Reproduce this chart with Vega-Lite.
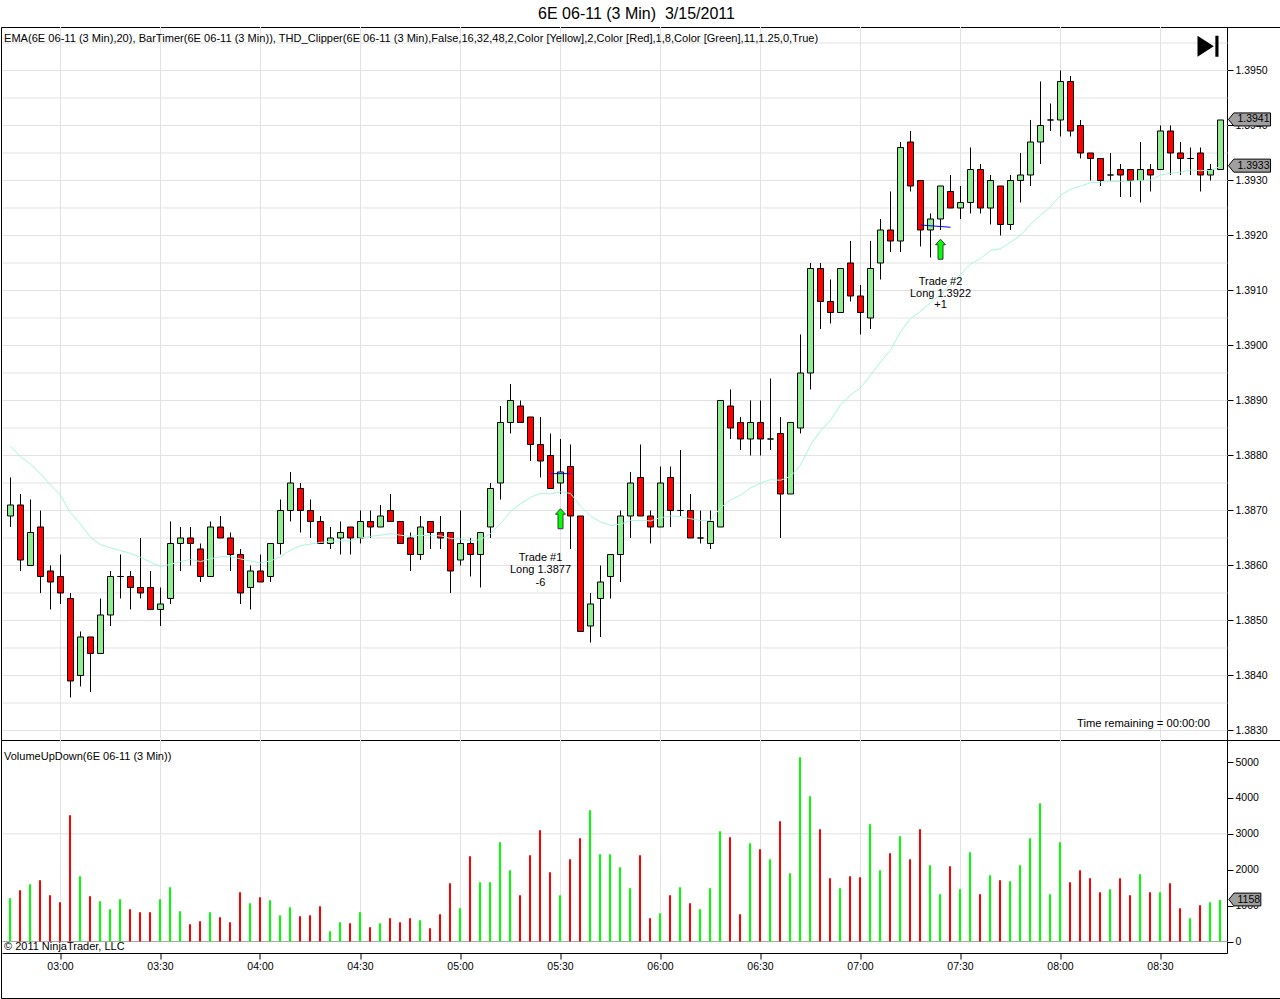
{
  "$schema": "https://vega.github.io/schema/vega-lite/v6.json",
  "padding": 0,
  "spacing": 0,
  "bounds": "flush",
  "background": "#ffffff",
  "config": {
    "axis": {"labelFont": "Liberation Sans", "labelFontSize": 10.5, "labelColor": "#000000", "grid": false, "tickColor": "#000000", "domainColor": "#000000"},
    "text": {"font": "Liberation Sans", "fontSize": 11, "color": "#000000"}
  },
  "datasets": {
    "timegrid": [
      {"t":"2011-03-15T03:00:00Z","v0":0,"v1":5613},{"t":"2011-03-15T03:30:00Z","v0":0,"v1":5613},{"t":"2011-03-15T04:00:00Z","v0":0,"v1":5613},{"t":"2011-03-15T04:30:00Z","v0":0,"v1":5613},{"t":"2011-03-15T05:00:00Z","v0":0,"v1":5613},{"t":"2011-03-15T05:30:00Z","v0":0,"v1":5613},{"t":"2011-03-15T06:00:00Z","v0":0,"v1":5613},{"t":"2011-03-15T06:30:00Z","v0":0,"v1":5613},{"t":"2011-03-15T07:00:00Z","v0":0,"v1":5613},{"t":"2011-03-15T07:30:00Z","v0":0,"v1":5613},{"t":"2011-03-15T08:00:00Z","v0":0,"v1":5613},{"t":"2011-03-15T08:30:00Z","v0":0,"v1":5613}
    ],
    "bars": [
      {"t":"2011-03-15T02:45:00Z","o":1.3869,"h":1.3876,"l":1.3867,"c":1.3871,"v":1207,"ema":1.38817,"dir":"up"},
      {"t":"2011-03-15T02:48:00Z","o":1.3871,"h":1.3873,"l":1.3859,"c":1.3861,"v":1430,"ema":1.38798,"dir":"down"},
      {"t":"2011-03-15T02:51:00Z","o":1.386,"h":1.3872,"l":1.386,"c":1.3866,"v":1597,"ema":1.38784,"dir":"up"},
      {"t":"2011-03-15T02:54:00Z","o":1.3867,"h":1.387,"l":1.3855,"c":1.3858,"v":1708,"ema":1.38767,"dir":"down"},
      {"t":"2011-03-15T02:57:00Z","o":1.3859,"h":1.386,"l":1.3852,"c":1.3857,"v":1290,"ema":1.38746,"dir":"down"},
      {"t":"2011-03-15T03:00:00Z","o":1.3858,"h":1.3862,"l":1.3853,"c":1.3855,"v":1096,"ema":1.38728,"dir":"down"},
      {"t":"2011-03-15T03:03:00Z","o":1.3854,"h":1.3855,"l":1.3836,"c":1.3839,"v":3519,"ema":1.38696,"dir":"down"},
      {"t":"2011-03-15T03:06:00Z","o":1.384,"h":1.3848,"l":1.3838,"c":1.3847,"v":1820,"ema":1.38675,"dir":"up"},
      {"t":"2011-03-15T03:09:00Z","o":1.3847,"h":1.3847,"l":1.3837,"c":1.3844,"v":1263,"ema":1.38651,"dir":"down"},
      {"t":"2011-03-15T03:12:00Z","o":1.3844,"h":1.3854,"l":1.3844,"c":1.3851,"v":1123,"ema":1.38638,"dir":"up"},
      {"t":"2011-03-15T03:15:00Z","o":1.3851,"h":1.3859,"l":1.3849,"c":1.3858,"v":900,"ema":1.38632,"dir":"up"},
      {"t":"2011-03-15T03:18:00Z","o":1.3858,"h":1.3862,"l":1.3854,"c":1.3858,"v":1179,"ema":1.38627,"dir":"up"},
      {"t":"2011-03-15T03:21:00Z","o":1.3858,"h":1.3859,"l":1.3852,"c":1.3856,"v":900,"ema":1.38622,"dir":"down"},
      {"t":"2011-03-15T03:24:00Z","o":1.3856,"h":1.3865,"l":1.3854,"c":1.3855,"v":817,"ema":1.38615,"dir":"down"},
      {"t":"2011-03-15T03:27:00Z","o":1.3856,"h":1.3859,"l":1.3852,"c":1.3852,"v":817,"ema":1.38606,"dir":"down"},
      {"t":"2011-03-15T03:30:00Z","o":1.3852,"h":1.3856,"l":1.3849,"c":1.3853,"v":1179,"ema":1.38598,"dir":"up"},
      {"t":"2011-03-15T03:33:00Z","o":1.3854,"h":1.3868,"l":1.3853,"c":1.3864,"v":1513,"ema":1.38602,"dir":"up"},
      {"t":"2011-03-15T03:36:00Z","o":1.3864,"h":1.3867,"l":1.3859,"c":1.3865,"v":845,"ema":1.38607,"dir":"up"},
      {"t":"2011-03-15T03:39:00Z","o":1.3865,"h":1.3867,"l":1.386,"c":1.3864,"v":483,"ema":1.38611,"dir":"down"},
      {"t":"2011-03-15T03:42:00Z","o":1.3863,"h":1.3864,"l":1.3857,"c":1.3858,"v":566,"ema":1.38607,"dir":"down"},
      {"t":"2011-03-15T03:45:00Z","o":1.3858,"h":1.3868,"l":1.3858,"c":1.3867,"v":817,"ema":1.38612,"dir":"up"},
      {"t":"2011-03-15T03:48:00Z","o":1.3867,"h":1.3869,"l":1.3865,"c":1.3865,"v":678,"ema":1.38616,"dir":"down"},
      {"t":"2011-03-15T03:51:00Z","o":1.3865,"h":1.3866,"l":1.3859,"c":1.3862,"v":539,"ema":1.38616,"dir":"down"},
      {"t":"2011-03-15T03:54:00Z","o":1.3862,"h":1.3863,"l":1.3853,"c":1.3855,"v":1374,"ema":1.38612,"dir":"down"},
      {"t":"2011-03-15T03:57:00Z","o":1.3856,"h":1.386,"l":1.3852,"c":1.3859,"v":1068,"ema":1.38608,"dir":"up"},
      {"t":"2011-03-15T04:00:00Z","o":1.3859,"h":1.3862,"l":1.3857,"c":1.3857,"v":1235,"ema":1.38605,"dir":"down"},
      {"t":"2011-03-15T04:03:00Z","o":1.3858,"h":1.3864,"l":1.3857,"c":1.3864,"v":1151,"ema":1.38608,"dir":"up"},
      {"t":"2011-03-15T04:06:00Z","o":1.3864,"h":1.3872,"l":1.3862,"c":1.387,"v":733,"ema":1.38616,"dir":"up"},
      {"t":"2011-03-15T04:09:00Z","o":1.387,"h":1.3877,"l":1.3868,"c":1.3875,"v":956,"ema":1.38628,"dir":"up"},
      {"t":"2011-03-15T04:12:00Z","o":1.3874,"h":1.3875,"l":1.3866,"c":1.387,"v":706,"ema":1.38636,"dir":"down"},
      {"t":"2011-03-15T04:15:00Z","o":1.387,"h":1.3872,"l":1.3865,"c":1.3868,"v":733,"ema":1.38639,"dir":"down"},
      {"t":"2011-03-15T04:18:00Z","o":1.3868,"h":1.3869,"l":1.3864,"c":1.3864,"v":984,"ema":1.38642,"dir":"down"},
      {"t":"2011-03-15T04:21:00Z","o":1.3864,"h":1.3867,"l":1.3863,"c":1.3865,"v":288,"ema":1.38644,"dir":"up"},
      {"t":"2011-03-15T04:24:00Z","o":1.3865,"h":1.3868,"l":1.3862,"c":1.3866,"v":539,"ema":1.38645,"dir":"up"},
      {"t":"2011-03-15T04:27:00Z","o":1.3867,"h":1.3867,"l":1.3862,"c":1.3865,"v":511,"ema":1.38645,"dir":"down"},
      {"t":"2011-03-15T04:30:00Z","o":1.3865,"h":1.387,"l":1.3864,"c":1.3868,"v":817,"ema":1.3865,"dir":"up"},
      {"t":"2011-03-15T04:33:00Z","o":1.3868,"h":1.387,"l":1.3865,"c":1.3867,"v":399,"ema":1.38653,"dir":"down"},
      {"t":"2011-03-15T04:36:00Z","o":1.3867,"h":1.3871,"l":1.3867,"c":1.3869,"v":511,"ema":1.38655,"dir":"up"},
      {"t":"2011-03-15T04:39:00Z","o":1.387,"h":1.3873,"l":1.3868,"c":1.3868,"v":650,"ema":1.38658,"dir":"down"},
      {"t":"2011-03-15T04:42:00Z","o":1.3868,"h":1.3868,"l":1.3864,"c":1.3864,"v":539,"ema":1.38655,"dir":"down"},
      {"t":"2011-03-15T04:45:00Z","o":1.3865,"h":1.3866,"l":1.3859,"c":1.3862,"v":650,"ema":1.38653,"dir":"down"},
      {"t":"2011-03-15T04:48:00Z","o":1.3862,"h":1.3869,"l":1.3861,"c":1.3867,"v":594,"ema":1.38655,"dir":"up"},
      {"t":"2011-03-15T04:51:00Z","o":1.3868,"h":1.3868,"l":1.3863,"c":1.3866,"v":371,"ema":1.38654,"dir":"down"},
      {"t":"2011-03-15T04:54:00Z","o":1.3866,"h":1.3869,"l":1.3863,"c":1.3865,"v":761,"ema":1.38654,"dir":"down"},
      {"t":"2011-03-15T04:57:00Z","o":1.3866,"h":1.3866,"l":1.3855,"c":1.3859,"v":1625,"ema":1.38649,"dir":"down"},
      {"t":"2011-03-15T05:00:00Z","o":1.3861,"h":1.387,"l":1.386,"c":1.3864,"v":929,"ema":1.38648,"dir":"up"},
      {"t":"2011-03-15T05:03:00Z","o":1.3864,"h":1.3865,"l":1.3858,"c":1.3862,"v":2377,"ema":1.38645,"dir":"down"},
      {"t":"2011-03-15T05:06:00Z","o":1.3862,"h":1.3866,"l":1.3856,"c":1.3866,"v":1653,"ema":1.38647,"dir":"up"},
      {"t":"2011-03-15T05:09:00Z","o":1.3867,"h":1.3875,"l":1.3865,"c":1.3874,"v":1653,"ema":1.38658,"dir":"up"},
      {"t":"2011-03-15T05:12:00Z","o":1.3875,"h":1.3889,"l":1.3872,"c":1.3886,"v":2767,"ema":1.38676,"dir":"up"},
      {"t":"2011-03-15T05:15:00Z","o":1.3886,"h":1.3893,"l":1.3884,"c":1.389,"v":1987,"ema":1.38698,"dir":"up"},
      {"t":"2011-03-15T05:18:00Z","o":1.3889,"h":1.389,"l":1.3886,"c":1.3886,"v":1291,"ema":1.38712,"dir":"down"},
      {"t":"2011-03-15T05:21:00Z","o":1.3887,"h":1.3887,"l":1.3879,"c":1.3882,"v":2405,"ema":1.38724,"dir":"down"},
      {"t":"2011-03-15T05:24:00Z","o":1.3882,"h":1.3887,"l":1.3876,"c":1.3879,"v":3101,"ema":1.38731,"dir":"down"},
      {"t":"2011-03-15T05:27:00Z","o":1.388,"h":1.3884,"l":1.3874,"c":1.3874,"v":1931,"ema":1.3873,"dir":"down"},
      {"t":"2011-03-15T05:30:00Z","o":1.3875,"h":1.3883,"l":1.3873,"c":1.3877,"v":1291,"ema":1.38734,"dir":"up"},
      {"t":"2011-03-15T05:33:00Z","o":1.3878,"h":1.3882,"l":1.3863,"c":1.3869,"v":2293,"ema":1.38731,"dir":"down"},
      {"t":"2011-03-15T05:36:00Z","o":1.3869,"h":1.3869,"l":1.3848,"c":1.3848,"v":2878,"ema":1.38708,"dir":"down"},
      {"t":"2011-03-15T05:39:00Z","o":1.3849,"h":1.3855,"l":1.3846,"c":1.3853,"v":3658,"ema":1.3869,"dir":"up"},
      {"t":"2011-03-15T05:42:00Z","o":1.3854,"h":1.386,"l":1.3847,"c":1.3857,"v":2433,"ema":1.38679,"dir":"up"},
      {"t":"2011-03-15T05:45:00Z","o":1.3858,"h":1.3862,"l":1.3854,"c":1.3862,"v":2433,"ema":1.38673,"dir":"up"},
      {"t":"2011-03-15T05:48:00Z","o":1.3862,"h":1.387,"l":1.3857,"c":1.3869,"v":2071,"ema":1.38675,"dir":"up"},
      {"t":"2011-03-15T05:51:00Z","o":1.3869,"h":1.3877,"l":1.3865,"c":1.3875,"v":1486,"ema":1.38682,"dir":"up"},
      {"t":"2011-03-15T05:54:00Z","o":1.3876,"h":1.3882,"l":1.3869,"c":1.3869,"v":2405,"ema":1.38682,"dir":"down"},
      {"t":"2011-03-15T05:57:00Z","o":1.3869,"h":1.387,"l":1.3864,"c":1.3867,"v":650,"ema":1.38681,"dir":"down"},
      {"t":"2011-03-15T06:00:00Z","o":1.3867,"h":1.3878,"l":1.3867,"c":1.3875,"v":789,"ema":1.38687,"dir":"up"},
      {"t":"2011-03-15T06:03:00Z","o":1.3876,"h":1.3878,"l":1.3867,"c":1.387,"v":1291,"ema":1.3869,"dir":"down"},
      {"t":"2011-03-15T06:06:00Z","o":1.387,"h":1.3881,"l":1.3869,"c":1.387,"v":1513,"ema":1.38689,"dir":"up"},
      {"t":"2011-03-15T06:09:00Z","o":1.387,"h":1.3873,"l":1.3865,"c":1.3865,"v":1068,"ema":1.38685,"dir":"down"},
      {"t":"2011-03-15T06:12:00Z","o":1.3865,"h":1.387,"l":1.3864,"c":1.3865,"v":900,"ema":1.38682,"dir":"up"},
      {"t":"2011-03-15T06:15:00Z","o":1.3864,"h":1.387,"l":1.3863,"c":1.3868,"v":1486,"ema":1.38682,"dir":"up"},
      {"t":"2011-03-15T06:18:00Z","o":1.3867,"h":1.389,"l":1.3867,"c":1.389,"v":3073,"ema":1.38705,"dir":"up"},
      {"t":"2011-03-15T06:21:00Z","o":1.3889,"h":1.3892,"l":1.3883,"c":1.3885,"v":2906,"ema":1.38719,"dir":"down"},
      {"t":"2011-03-15T06:24:00Z","o":1.3886,"h":1.3887,"l":1.3881,"c":1.3883,"v":761,"ema":1.38728,"dir":"down"},
      {"t":"2011-03-15T06:27:00Z","o":1.3883,"h":1.389,"l":1.388,"c":1.3886,"v":2739,"ema":1.38741,"dir":"up"},
      {"t":"2011-03-15T06:30:00Z","o":1.3886,"h":1.389,"l":1.388,"c":1.3883,"v":2572,"ema":1.3875,"dir":"down"},
      {"t":"2011-03-15T06:33:00Z","o":1.3883,"h":1.3894,"l":1.3881,"c":1.3883,"v":2293,"ema":1.38756,"dir":"up"},
      {"t":"2011-03-15T06:36:00Z","o":1.3884,"h":1.3887,"l":1.3865,"c":1.3873,"v":3352,"ema":1.38755,"dir":"down"},
      {"t":"2011-03-15T06:39:00Z","o":1.3873,"h":1.3886,"l":1.3873,"c":1.3886,"v":1903,"ema":1.38762,"dir":"up"},
      {"t":"2011-03-15T06:42:00Z","o":1.3885,"h":1.3902,"l":1.3884,"c":1.3895,"v":5135,"ema":1.38782,"dir":"up"},
      {"t":"2011-03-15T06:45:00Z","o":1.3895,"h":1.3915,"l":1.3892,"c":1.3914,"v":4048,"ema":1.38819,"dir":"up"},
      {"t":"2011-03-15T06:48:00Z","o":1.3914,"h":1.3915,"l":1.3903,"c":1.3908,"v":3129,"ema":1.38845,"dir":"down"},
      {"t":"2011-03-15T06:51:00Z","o":1.3908,"h":1.3912,"l":1.3904,"c":1.3906,"v":1764,"ema":1.38864,"dir":"down"},
      {"t":"2011-03-15T06:54:00Z","o":1.3906,"h":1.3914,"l":1.3906,"c":1.3914,"v":1486,"ema":1.38892,"dir":"up"},
      {"t":"2011-03-15T06:57:00Z","o":1.3915,"h":1.3919,"l":1.3908,"c":1.3909,"v":1820,"ema":1.3891,"dir":"down"},
      {"t":"2011-03-15T07:00:00Z","o":1.3909,"h":1.3911,"l":1.3902,"c":1.3906,"v":1792,"ema":1.38923,"dir":"down"},
      {"t":"2011-03-15T07:03:00Z","o":1.3905,"h":1.3919,"l":1.3903,"c":1.3914,"v":3268,"ema":1.38946,"dir":"up"},
      {"t":"2011-03-15T07:06:00Z","o":1.3915,"h":1.3923,"l":1.3912,"c":1.3921,"v":1987,"ema":1.3897,"dir":"up"},
      {"t":"2011-03-15T07:09:00Z","o":1.3921,"h":1.3928,"l":1.3917,"c":1.3919,"v":2461,"ema":1.38992,"dir":"down"},
      {"t":"2011-03-15T07:12:00Z","o":1.3919,"h":1.3937,"l":1.3917,"c":1.3936,"v":2934,"ema":1.39025,"dir":"up"},
      {"t":"2011-03-15T07:15:00Z","o":1.3937,"h":1.3939,"l":1.3928,"c":1.3929,"v":2293,"ema":1.39049,"dir":"down"},
      {"t":"2011-03-15T07:18:00Z","o":1.393,"h":1.393,"l":1.3918,"c":1.3921,"v":3129,"ema":1.39062,"dir":"down"},
      {"t":"2011-03-15T07:21:00Z","o":1.3921,"h":1.3924,"l":1.3916,"c":1.3923,"v":2126,"ema":1.39078,"dir":"up"},
      {"t":"2011-03-15T07:24:00Z","o":1.3923,"h":1.3929,"l":1.3921,"c":1.3929,"v":1318,"ema":1.39093,"dir":"up"},
      {"t":"2011-03-15T07:27:00Z","o":1.3928,"h":1.3931,"l":1.3925,"c":1.3925,"v":2098,"ema":1.39111,"dir":"down"},
      {"t":"2011-03-15T07:30:00Z","o":1.3925,"h":1.3929,"l":1.3923,"c":1.3926,"v":1458,"ema":1.39129,"dir":"up"},
      {"t":"2011-03-15T07:33:00Z","o":1.3926,"h":1.3936,"l":1.3924,"c":1.3932,"v":2488,"ema":1.39148,"dir":"up"},
      {"t":"2011-03-15T07:36:00Z","o":1.3932,"h":1.3933,"l":1.3924,"c":1.3925,"v":1318,"ema":1.39158,"dir":"down"},
      {"t":"2011-03-15T07:39:00Z","o":1.3925,"h":1.3931,"l":1.3922,"c":1.393,"v":1848,"ema":1.39173,"dir":"up"},
      {"t":"2011-03-15T07:42:00Z","o":1.3929,"h":1.3929,"l":1.392,"c":1.3922,"v":1708,"ema":1.39176,"dir":"down"},
      {"t":"2011-03-15T07:45:00Z","o":1.3922,"h":1.3931,"l":1.3921,"c":1.393,"v":1681,"ema":1.39188,"dir":"up"},
      {"t":"2011-03-15T07:48:00Z","o":1.393,"h":1.3935,"l":1.3926,"c":1.3931,"v":2126,"ema":1.392,"dir":"up"},
      {"t":"2011-03-15T07:51:00Z","o":1.3931,"h":1.3941,"l":1.3929,"c":1.3937,"v":2878,"ema":1.3922,"dir":"up"},
      {"t":"2011-03-15T07:54:00Z","o":1.3937,"h":1.3948,"l":1.3933,"c":1.394,"v":3853,"ema":1.39237,"dir":"up"},
      {"t":"2011-03-15T07:57:00Z","o":1.3941,"h":1.3944,"l":1.3939,"c":1.3941,"v":1318,"ema":1.39252,"dir":"up"},
      {"t":"2011-03-15T08:00:00Z","o":1.3941,"h":1.395,"l":1.3938,"c":1.3948,"v":2767,"ema":1.39273,"dir":"up"},
      {"t":"2011-03-15T08:03:00Z","o":1.3948,"h":1.3949,"l":1.3938,"c":1.3939,"v":1653,"ema":1.39284,"dir":"down"},
      {"t":"2011-03-15T08:06:00Z","o":1.394,"h":1.3941,"l":1.3934,"c":1.3935,"v":1987,"ema":1.3929,"dir":"down"},
      {"t":"2011-03-15T08:09:00Z","o":1.3935,"h":1.3935,"l":1.393,"c":1.3934,"v":1764,"ema":1.39296,"dir":"down"},
      {"t":"2011-03-15T08:12:00Z","o":1.3934,"h":1.3934,"l":1.3929,"c":1.393,"v":1374,"ema":1.39297,"dir":"down"},
      {"t":"2011-03-15T08:15:00Z","o":1.3931,"h":1.3935,"l":1.393,"c":1.3931,"v":1458,"ema":1.39298,"dir":"up"},
      {"t":"2011-03-15T08:18:00Z","o":1.3932,"h":1.3933,"l":1.3927,"c":1.3931,"v":1764,"ema":1.39298,"dir":"down"},
      {"t":"2011-03-15T08:21:00Z","o":1.3932,"h":1.3932,"l":1.3927,"c":1.393,"v":1291,"ema":1.39299,"dir":"down"},
      {"t":"2011-03-15T08:24:00Z","o":1.393,"h":1.3937,"l":1.3926,"c":1.3932,"v":1876,"ema":1.393,"dir":"up"},
      {"t":"2011-03-15T08:27:00Z","o":1.3932,"h":1.3933,"l":1.3928,"c":1.3931,"v":1374,"ema":1.39301,"dir":"down"},
      {"t":"2011-03-15T08:30:00Z","o":1.3932,"h":1.394,"l":1.3932,"c":1.3939,"v":1374,"ema":1.3931,"dir":"up"},
      {"t":"2011-03-15T08:33:00Z","o":1.3939,"h":1.394,"l":1.3931,"c":1.3935,"v":1625,"ema":1.39313,"dir":"down"},
      {"t":"2011-03-15T08:36:00Z","o":1.3935,"h":1.3937,"l":1.3931,"c":1.3934,"v":929,"ema":1.39315,"dir":"down"},
      {"t":"2011-03-15T08:39:00Z","o":1.3934,"h":1.3936,"l":1.3931,"c":1.3934,"v":650,"ema":1.39319,"dir":"up"},
      {"t":"2011-03-15T08:42:00Z","o":1.3935,"h":1.3936,"l":1.3928,"c":1.3931,"v":1012,"ema":1.39318,"dir":"down"},
      {"t":"2011-03-15T08:45:00Z","o":1.3931,"h":1.3933,"l":1.393,"c":1.3932,"v":1096,"ema":1.39318,"dir":"up"},
      {"t":"2011-03-15T08:48:00Z","o":1.3932,"h":1.3941,"l":1.3932,"c":1.3941,"v":1158,"ema":1.39326,"dir":"up"}
    ]
  },
  "vconcat": [
    {
      "width": 1279,
      "height": 27,
      "view": {"stroke": null},
      "data": {"values": [{"t": "2011-03-15T05:52:48Z", "label": "6E 06-11 (3 Min)\u00a0 3/15/2011"}]},
      "mark": {"type": "text", "fontSize": 16, "align": "center", "baseline": "middle"},
      "encoding": {
        "x": {"field": "t", "type": "temporal", "scale": {"type": "utc", "padding": 0, "range": [1.5, 1226.5], "domain": [1300156956000, 1300179006000]}, "axis": null},
        "text": {"field": "label"}
      }
    },
    {
      "width": 1279,
      "height": 713,
      "view": {"stroke": "#000000"},
      "encoding": {
        "x": {"field": "t", "type": "temporal", "scale": {"type": "utc", "padding": 0, "range": [1.5, 1226.5], "domain": [1300156956000, 1300179006000]}, "axis": null}
      },
      "layer": [
        {
          "data": {"name": "timegrid"},
          "mark": {"type": "rule", "color": "#e2e2e2", "strokeWidth": 1},
          "encoding": {}
        },
        {
          "data": {
            "values": [
              {"t":"2011-03-15T02:42:36Z","t2":"2011-03-15T08:50:06Z","p":1.383},{"t":"2011-03-15T02:42:36Z","t2":"2011-03-15T08:50:06Z","p":1.3835},{"t":"2011-03-15T02:42:36Z","t2":"2011-03-15T08:50:06Z","p":1.384},{"t":"2011-03-15T02:42:36Z","t2":"2011-03-15T08:50:06Z","p":1.3845},{"t":"2011-03-15T02:42:36Z","t2":"2011-03-15T08:50:06Z","p":1.385},{"t":"2011-03-15T02:42:36Z","t2":"2011-03-15T08:50:06Z","p":1.3855},{"t":"2011-03-15T02:42:36Z","t2":"2011-03-15T08:50:06Z","p":1.386},{"t":"2011-03-15T02:42:36Z","t2":"2011-03-15T08:50:06Z","p":1.3865},{"t":"2011-03-15T02:42:36Z","t2":"2011-03-15T08:50:06Z","p":1.387},{"t":"2011-03-15T02:42:36Z","t2":"2011-03-15T08:50:06Z","p":1.3875},{"t":"2011-03-15T02:42:36Z","t2":"2011-03-15T08:50:06Z","p":1.388},{"t":"2011-03-15T02:42:36Z","t2":"2011-03-15T08:50:06Z","p":1.3885},{"t":"2011-03-15T02:42:36Z","t2":"2011-03-15T08:50:06Z","p":1.389},{"t":"2011-03-15T02:42:36Z","t2":"2011-03-15T08:50:06Z","p":1.3895},{"t":"2011-03-15T02:42:36Z","t2":"2011-03-15T08:50:06Z","p":1.39},{"t":"2011-03-15T02:42:36Z","t2":"2011-03-15T08:50:06Z","p":1.3905},{"t":"2011-03-15T02:42:36Z","t2":"2011-03-15T08:50:06Z","p":1.391},{"t":"2011-03-15T02:42:36Z","t2":"2011-03-15T08:50:06Z","p":1.3915},{"t":"2011-03-15T02:42:36Z","t2":"2011-03-15T08:50:06Z","p":1.392},{"t":"2011-03-15T02:42:36Z","t2":"2011-03-15T08:50:06Z","p":1.3925},{"t":"2011-03-15T02:42:36Z","t2":"2011-03-15T08:50:06Z","p":1.393},{"t":"2011-03-15T02:42:36Z","t2":"2011-03-15T08:50:06Z","p":1.3935},{"t":"2011-03-15T02:42:36Z","t2":"2011-03-15T08:50:06Z","p":1.394},{"t":"2011-03-15T02:42:36Z","t2":"2011-03-15T08:50:06Z","p":1.3945},{"t":"2011-03-15T02:42:36Z","t2":"2011-03-15T08:50:06Z","p":1.395},{"t":"2011-03-15T02:42:36Z","t2":"2011-03-15T08:50:06Z","p":1.3955}
            ],
            "format": {"parse": {"t": "date", "t2": "date"}}
          },
          "mark": {"type": "rule", "color": "#e2e2e2", "strokeWidth": 1},
          "encoding": {
            "x2": {"field": "t2"},
            "y": {"field": "p", "type": "quantitative", "scale": {"domain": [1.382836, 1.3958], "range": [712.5, -0.5], "nice": false, "zero": false}, "axis": {"orient": "right", "title": null, "offset": -53, "tickSize": 6, "labelPadding": 2, "values": [1.383, 1.384, 1.385, 1.386, 1.387, 1.388, 1.389, 1.39, 1.391, 1.392, 1.393, 1.394, 1.395], "format": ".4f"}},
            "y2": {"field": "p"}
          }
        },
        {
          "data": {"name": "bars"},
          "mark": {"type": "rule", "color": "#000000", "strokeWidth": 1},
          "encoding": {
            "y": {"field": "l", "type": "quantitative"},
            "y2": {"field": "h"}
          }
        },
        {
          "data": {"name": "bars"},
          "mark": {"type": "bar", "width": 6, "stroke": "#000000", "strokeWidth": 1},
          "encoding": {
            "y": {"field": "o", "type": "quantitative", "stack": null},
            "y2": {"field": "c"},
            "color": {"field": "dir", "type": "nominal", "legend": null, "scale": {"domain": ["up", "down"], "range": ["#90ee90", "#ff0000"]}}
          }
        },
        {
          "data": {"name": "bars"},
          "mark": {"type": "line", "color": "#a8f5dc", "strokeWidth": 1},
          "encoding": {"y": {"field": "ema", "type": "quantitative"}}
        },
        {
          "data": {
            "values": [
              {"t": "2011-03-15T05:27:00Z", "t2": "2011-03-15T05:33:00Z", "p": 1.38767, "p2": 1.38767},
              {"t": "2011-03-15T07:18:00Z", "t2": "2011-03-15T07:27:00Z", "p": 1.39219, "p2": 1.39215}
            ],
            "format": {"parse": {"t": "date", "t2": "date"}}
          },
          "mark": {"type": "rule", "color": "#0000ff", "strokeWidth": 1},
          "encoding": {
            "x2": {"field": "t2"},
            "y": {"field": "p", "type": "quantitative"},
            "y2": {"field": "p2"}
          }
        },
        {
          "data": {"values": [{"t": "2011-03-15T05:30:00Z", "p": 1.38685}, {"t": "2011-03-15T07:24:00Z", "p": 1.39175}]},
          "mark": {"type": "point", "shape": "M0,-1 L0.5,-0.45 L0.25,-0.45 L0.25,1 L-0.25,1 L-0.25,-0.45 L-0.5,-0.45 Z", "size": 400, "filled": true, "fill": "#00ff00", "stroke": "#3a3a3a", "strokeWidth": 1, "opacity": 1},
          "encoding": {"y": {"field": "p", "type": "quantitative"}}
        },
        {
          "data": {"values": [{"t": "2011-03-15T08:44:15Z", "p": 1.39544}]},
          "mark": {"type": "point", "shape": "M-1,-1 L0.55,0 L-1,1 Z M0.7,-1 L1,-1 L1,1 L0.7,1 Z", "size": 441, "filled": true, "fill": "#000000", "opacity": 1},
          "encoding": {"y": {"field": "p", "type": "quantitative"}}
        },
        {
          "data": {"values": [{"t": "2011-03-15T08:56:42Z", "p": 1.39411}, {"t": "2011-03-15T08:56:42Z", "p": 1.39327}]},
          "mark": {"type": "point", "shape": "M-1,0 L-0.75,-0.31 L1,-0.31 L1,0.31 L-0.75,0.31 Z", "size": 1764, "filled": true, "fill": "#a0a0a0", "stroke": "#000000", "strokeWidth": 1, "opacity": 1},
          "encoding": {"y": {"field": "p", "type": "quantitative"}}
        },
        {
          "data": {"values": [{"t": "2011-03-15T08:57:54Z", "p": 1.39411, "label": "1.3941"}, {"t": "2011-03-15T08:57:54Z", "p": 1.39327, "label": "1.3933"}]},
          "mark": {"type": "text", "fontSize": 10.5, "align": "center", "baseline": "middle"},
          "encoding": {"y": {"field": "p", "type": "quantitative"}, "text": {"field": "label"}}
        },
        {
          "data": {
            "values": [
              {"t": "2011-03-15T05:24:00Z", "p": 1.38613, "label": "Trade #1"},
              {"t": "2011-03-15T05:24:00Z", "p": 1.38591, "label": "Long 1.3877"},
              {"t": "2011-03-15T05:24:00Z", "p": 1.38569, "label": "-6"},
              {"t": "2011-03-15T07:24:00Z", "p": 1.39116, "label": "Trade #2"},
              {"t": "2011-03-15T07:24:00Z", "p": 1.39094, "label": "Long 1.3922"},
              {"t": "2011-03-15T07:24:00Z", "p": 1.39073, "label": "+1"}
            ]
          },
          "mark": {"type": "text", "align": "center", "baseline": "middle"},
          "encoding": {"y": {"field": "p", "type": "quantitative"}, "text": {"field": "label"}}
        },
        {
          "data": {"values": [{"t": "2011-03-15T08:44:51Z", "p": 1.38311, "label": "Time remaining = 00:00:00"}]},
          "mark": {"type": "text", "fontSize": 11.2, "align": "right", "baseline": "middle"},
          "encoding": {"y": {"field": "p", "type": "quantitative"}, "text": {"field": "label"}}
        },
        {
          "data": {"values": [{"t": "2011-03-15T02:43:03Z", "p": 1.39558, "label": "EMA(6E 06-11 (3 Min),20), BarTimer(6E 06-11 (3 Min)), THD_Clipper(6E 06-11 (3 Min),False,16,32,48,2,Color [Yellow],2,Color [Red],1,8,Color [Green],11,1.25,0,True)"}]},
          "mark": {"type": "text", "fontSize": 11.08, "align": "left", "baseline": "middle"},
          "encoding": {"y": {"field": "p", "type": "quantitative"}, "text": {"field": "label"}}
        }
      ]
    },
    {
      "width": 1279,
      "height": 258,
      "view": {"stroke": "#000000"},
      "encoding": {
        "x": {"field": "t", "type": "temporal", "scale": {"type": "utc", "padding": 0, "range": [1.5, 1226.5], "domain": [1300156956000, 1300179006000]}, "axis": {"orient": "bottom", "title": null, "offset": -44.5, "translate": 0, "tickSize": 6, "labelPadding": 2, "values": [1300158000000, 1300159800000, 1300161600000, 1300163400000, 1300165200000, 1300167000000, 1300168800000, 1300170600000, 1300172400000, 1300174200000, 1300176000000, 1300177800000], "labelExpr": "utcFormat(datum.value,'%H:%M')", "labelFlush": false}}
      },
      "layer": [
        {
          "data": {"name": "timegrid"},
          "mark": {"type": "rule", "color": "#e2e2e2", "strokeWidth": 1},
          "encoding": {
            "y": {"field": "v0", "type": "quantitative", "scale": {"domain": [-320, 5613], "range": [213, 0], "nice": false, "zero": false}, "axis": {"orient": "right", "title": null, "offset": -53, "tickSize": 6, "labelPadding": 2, "values": [0, 1000, 2000, 3000, 4000, 5000], "format": "d"}},
            "y2": {"field": "v1"}
          }
        },
        {
          "data": {
            "values": [{"t": "2011-03-15T02:42:36Z", "t2": "2011-03-15T08:50:06Z", "v": 3000}],
            "format": {"parse": {"t": "date", "t2": "date"}}
          },
          "mark": {"type": "rule", "color": "#e2e2e2", "strokeWidth": 1},
          "encoding": {
            "x2": {"field": "t2"},
            "y": {"field": "v", "type": "quantitative"},
            "y2": {"field": "v"}
          }
        },
        {
          "data": {
            "values": [{"t": "2011-03-15T02:42:36Z", "t2": "2011-03-15T08:50:06Z", "v": 0}],
            "format": {"parse": {"t": "date", "t2": "date"}}
          },
          "mark": {"type": "rule", "color": "#a8a8a8", "strokeWidth": 1},
          "encoding": {
            "x2": {"field": "t2"},
            "y": {"field": "v", "type": "quantitative"},
            "y2": {"field": "v"}
          }
        },
        {
          "data": {"name": "bars"},
          "mark": {"type": "bar", "width": 2, "color": "#00ff00", "xOffset": -0.5},
          "transform": [{"filter": "datum.dir == 'up'"}],
          "encoding": {"y": {"field": "v", "type": "quantitative", "stack": null}}
        },
        {
          "data": {"name": "bars"},
          "mark": {"type": "bar", "width": 2, "color": "#ff0000", "xOffset": -0.5},
          "transform": [{"filter": "datum.dir == 'down'"}],
          "encoding": {"y": {"field": "v", "type": "quantitative", "stack": null}}
        },
        {
          "data": {"values": [{"t": "2011-03-15T08:55:18Z", "v": 1170}]},
          "mark": {"type": "point", "shape": "M-1,0 L-0.68,-0.4 L1,-0.4 L1,0.4 L-0.68,0.4 Z", "size": 1024, "filled": true, "fill": "#a0a0a0", "stroke": "#000000", "strokeWidth": 1, "opacity": 1},
          "encoding": {"y": {"field": "v", "type": "quantitative"}}
        },
        {
          "data": {"values": [{"t": "2011-03-15T08:56:30Z", "v": 1170, "label": "1158"}]},
          "mark": {"type": "text", "fontSize": 10.5, "align": "center", "baseline": "middle"},
          "encoding": {"y": {"field": "v", "type": "quantitative"}, "text": {"field": "label"}}
        },
        {
          "data": {"values": [{"t": "2011-03-15T02:43:03Z", "v": 5140, "label": "VolumeUpDown(6E 06-11 (3 Min))"}, {"t": "2011-03-15T02:43:03Z", "v": -155, "label": "© 2011 NinjaTrader, LLC"}]},
          "mark": {"type": "text", "align": "left", "baseline": "middle"},
          "encoding": {"y": {"field": "v", "type": "quantitative"}, "text": {"field": "label"}}
        }
      ]
    }
  ]
}
